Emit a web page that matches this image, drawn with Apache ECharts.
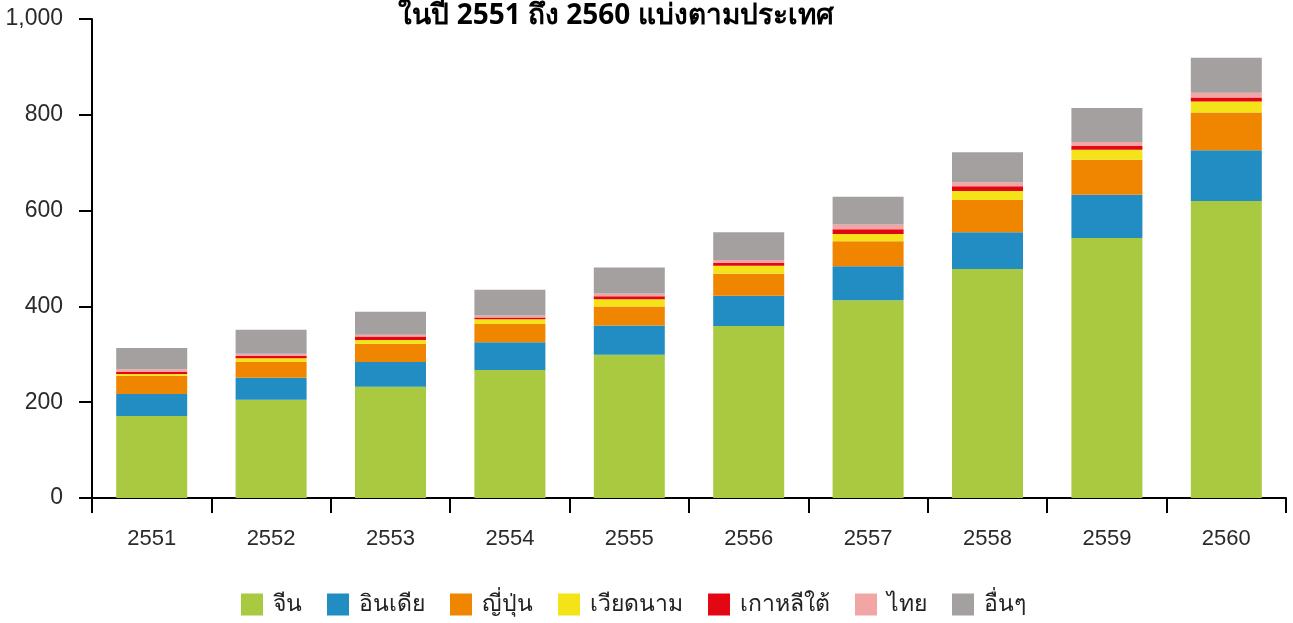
<!DOCTYPE html>
<html><head><meta charset="utf-8">
<script src="https://cdn.jsdelivr.net/npm/echarts@6/dist/echarts.min.js"></script>
<style>html,body{margin:0;padding:0;background:#fff}#c{width:1293px;height:623px}</style>
</head><body><div id="c"></div>
<script>
const categories = ['2551','2552','2553','2554','2555','2556','2557','2558','2559','2560'];
const seriesNames = ['จีน','อินเดีย','ญี่ปุ่น','เวียดนาม','เกาหลีใต้','ไทย','อื่นๆ'];
const china    = [171, 205, 232, 267, 299, 359, 413, 478, 543, 620];
const india    = [46, 46, 52, 58, 61, 63, 71, 77, 90, 106];
const japan    = [38, 33, 38, 38, 40, 46, 52, 67, 73, 79];
const vietnam  = [4, 8, 8, 10, 15, 17, 15, 19, 21, 23];
const korea    = [4, 5, 7, 4, 6, 6, 10, 10, 8, 8];
const thailand = [6, 4, 4, 4, 6, 6, 10, 8, 8, 10];
const others   = [44, 50, 48, 54, 54, 58, 58, 63, 71, 73];
const yTicks = [0, 200, 400, 600, 800, 1000];
const colors = ['#A8C940','#228DC3','#F08500','#F5E31A','#E30613','#F2A5A5','#A4A09F'];
const dataSets = [china, india, japan, vietnam, korea, thailand, others];

const chart = echarts.init(document.getElementById('c'));
chart.setOption({
  animation: false,
  title: {
    text: 'ในปี 2551 ถึง 2560 แบ่งตามประเทศ',
    left: 611, textAlign: 'center', top: -3,
    textStyle: { fontFamily: 'Noto Sans, sans-serif', fontSize: 28, fontWeight: 'bold', color: '#000' }
  },
  legend: {
    bottom: 2, left: 236, itemWidth: 22, itemHeight: 22, itemGap: 25,
    icon: 'rect',
    textStyle: { fontFamily: 'Noto Sans, sans-serif', fontSize: 23, color: '#222', padding: [0, 0, 0, 5] },
    data: seriesNames
  },
  grid: { left: 92, right: 7, top: 19, bottom: 125, containLabel: false },
  xAxis: {
    type: 'category', data: categories,
    axisLine: { lineStyle: { color: '#000', width: 2 } },
    axisTick: { show: true, alignWithLabel: false, interval: 0, length: 15, lineStyle: { color: '#000', width: 2 } },
    axisLabel: { margin: 30, fontFamily: 'Liberation Sans, Arial, sans-serif', fontSize: 22, color: '#2a2a2a' }
  },
  yAxis: {
    type: 'value', min: 0, max: 1000, interval: 200,
    axisLine: { show: true, lineStyle: { color: '#000', width: 2 } },
    axisTick: { show: true, length: 13, lineStyle: { color: '#000', width: 2 } },
    splitLine: { show: false },
    axisLabel: {
      margin: 29, fontFamily: 'Liberation Sans, Arial, sans-serif', fontSize: 23, color: '#2a2a2a',
      formatter: v => v.toLocaleString('en-US')
    }
  },
  series: seriesNames.map((n, i) => ({
    name: n, type: 'bar', stack: 'total', barWidth: 71,
    itemStyle: { color: colors[i] },
    data: dataSets[i]
  }))
});
</script></body></html>
